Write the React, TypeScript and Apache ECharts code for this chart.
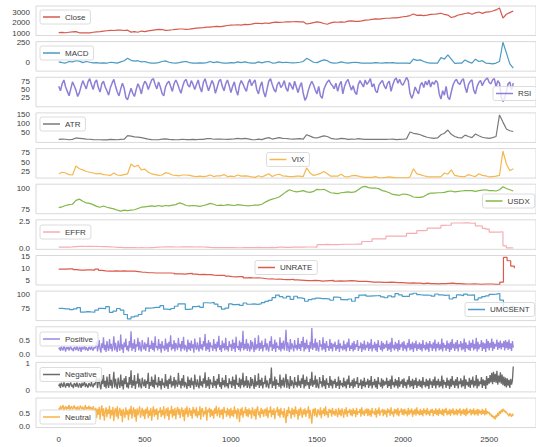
import React, { useEffect, useRef } from "react";
import * as echarts from "echarts";

// sampling steps (in trading-day index units)
const STEP_SMOOTH = 20;
const STEP_NOISY = 10;
const STEP_DENSE = 5;
const STEP_MONTH = 21;

const xTicks = [0, 500, 1000, 1500, 2000, 2500];

const closeValues = [
  1110, 1120, 1095, 1140, 1175, 1200, 1090, 1080, 1090, 1080,
  1140, 1180, 1200, 1240, 1280, 1320, 1300, 1330, 1340, 1300,
  1330, 1150, 1190, 1140, 1250, 1200, 1260, 1310, 1360, 1400,
  1390, 1320, 1340, 1370, 1410, 1440, 1440, 1400, 1420, 1480,
  1515, 1550, 1570, 1610, 1620, 1650, 1690, 1660, 1710, 1760,
  1795, 1810, 1830, 1800, 1860, 1850, 1890, 1950, 1970, 1930,
  1995, 1960, 2020, 2070, 2050, 2060, 2110, 2090, 2110, 2125,
  2100, 2110, 1900, 1960, 2030, 2090, 2050, 1950, 1880, 2000,
  2070, 2060, 2090, 2060, 2170, 2180, 2140, 2140, 2190, 2260,
  2270, 2320, 2370, 2350, 2400, 2430, 2430, 2470, 2460, 2510,
  2570, 2600, 2680, 2820, 2700, 2720, 2670, 2720, 2780, 2800,
  2840, 2890, 2780, 2720, 2500, 2580, 2730, 2790, 2870, 2930,
  2800, 2930, 3010, 2880, 2990, 3010, 3100, 3200, 3370, 2450,
  2800, 2950, 3100,
];

const macdValues = [
  5, -5, -10, 10, 5, 20, 15, -5, 10, 0,
  -8, -5, -10, -8, -12, 0, -5, -10, 5, 20,
  50, 25, 15, 20, 5, 10, -5, -10, -12, -5,
  10, 18, 0, -8, -10, -5, 5, 10, -5, -10,
  -12, -8, -10, -5, 10, -5, 5, -5, -12, -10,
  -5, -8, 5, -5, 5, -5, -12, -10, 5, -8,
  5, 10, -10, -8, 5, -5, 0, -5, -8, -5,
  0, 10, 50, 25, 0, -5, 15, 30, 20, -5,
  -10, -8, 5, -5, -10, -5, 0, -5, -12, -10,
  -10, -12, -5, -8, -10, -5, -8, -5, -10, -12,
  -12, -10, -15, 40, 25, 30, 10, -5, -10, -12,
  -10, 60, 40, 95, 40, -15, -10, -12, 30, 5,
  -10, 40, 10, 20, -10, -15, -20, -10, 10, 255,
  120, -20, -75,
];

const rsiValues = [
  60, 46, 68, 80, 58, 44, 30, 52, 74, 62, 48, 28, 40, 60, 78, 64, 52, 74, 84, 66,
  50, 72, 80, 56, 42, 68, 76, 58, 46, 32, 56, 70, 82, 60, 42, 30, 52, 70, 54, 24,
  18, 36, 54, 38, 28, 50, 68, 56, 36, 62, 76, 68, 50, 66, 80, 84, 66, 52, 74, 58,
  38, 30, 58, 70, 76, 60, 44, 68, 80, 68, 52, 38, 60, 76, 82, 64, 58, 78, 66, 50,
  66, 80, 56, 42, 72, 84, 64, 46, 62, 78, 66, 38, 56, 76, 82, 60, 46, 68, 80, 62,
  40, 60, 74, 48, 32, 64, 78, 68, 54, 44, 70, 82, 62, 72, 80, 50, 36, 60, 74, 42,
  26, 52, 76, 84, 66, 50, 42, 66, 74, 56, 64, 78, 54, 44, 72, 62, 50, 76, 58, 40,
  60, 72, 38, 16, 26, 48, 64, 76, 64, 48, 36, 60, 30, 22, 50, 64, 74, 80, 68, 62,
  52, 70, 44, 64, 76, 36, 60, 74, 82, 64, 48, 62, 42, 34, 66, 78, 68, 58, 80, 66,
  74, 84, 58, 68, 46, 40, 64, 72, 78, 62, 52, 70, 76, 44, 64, 80, 86, 70, 82, 68,
  64, 76, 88, 78, 38, 22, 36, 58, 46, 36, 64, 72, 56, 76, 64, 80, 58, 74, 66, 78,
  72, 36, 20, 46, 32, 60, 26, 18, 42, 64, 76, 82, 70, 66, 78, 84, 58, 40, 66, 76,
  80, 48, 36, 60, 72, 78, 62, 74, 82, 86, 72, 68, 80, 84, 58, 78, 70, 26, 12, 22,
  44, 68, 74, 48, 70,
];

const atrValues = [
  14, 16, 15, 12, 14, 22, 20, 18, 16, 15,
  13, 12, 12, 11, 11, 14, 13, 12, 14, 15,
  35, 32, 28, 27, 24, 20, 16, 13, 12, 12,
  16, 17, 14, 13, 12, 13, 15, 13, 13, 14,
  13, 15, 14, 18, 19, 15, 16, 16, 15, 14,
  16, 17, 20, 17, 20, 17, 13, 12, 16, 13,
  20, 24, 16, 20, 24, 20, 19, 17, 16, 17,
  18, 16, 40, 32, 24, 22, 28, 34, 30, 20,
  17, 16, 20, 18, 14, 16, 15, 18, 16, 14,
  14, 14, 15, 14, 15, 14, 15, 16, 13, 14,
  15, 17, 55, 48, 45, 40, 32, 26, 22, 20,
  22, 40, 48, 66, 42, 30, 24, 22, 38, 30,
  24, 44, 34, 26, 22, 20, 24, 30, 150, 110,
  72, 62, 58,
];

const vixValues = [
  20, 24, 22, 18, 17, 40, 33, 30, 26, 24,
  22, 20, 21, 18, 17, 16, 22, 17, 16, 18,
  20, 45, 38, 42, 30, 32, 24, 20, 18, 16,
  17, 23, 21, 17, 16, 15, 17, 17, 16, 14,
  13, 14, 13, 14, 17, 13, 15, 15, 18, 13,
  14, 13, 17, 14, 15, 14, 12, 11, 15, 12,
  16, 20, 13, 17, 19, 15, 14, 13, 13, 14,
  14, 13, 35, 22, 16, 18, 21, 26, 20, 14,
  14, 14, 19, 13, 12, 15, 16, 14, 12, 11,
  11, 11, 13, 10, 10, 11, 12, 11, 10, 10,
  10, 10, 12, 33, 20, 18, 15, 13, 12, 12,
  12, 13, 22, 19, 30, 16, 14, 13, 13, 18,
  15, 13, 20, 16, 15, 12, 13, 14, 16, 78,
  45, 28, 33,
];

const usdxValues = [
  77.5, 78.5, 80, 81, 81.5, 86, 87.5, 85, 83, 82.5,
  81, 79, 78, 79.5, 78, 77, 76, 74.5, 73.5, 74.5,
  74, 74.5, 75, 76.5, 78, 78.5, 79, 79.5, 79, 80,
  79, 80, 79.5, 80.5, 81, 83, 82, 80, 79.5, 80,
  79.5, 79, 80, 81, 82.5, 81.5, 80, 80.5, 80, 81,
  80.5, 80, 81, 80.5, 80, 79.5, 80, 80.5, 80.5, 81.5,
  84, 86, 87.5, 88.5, 90, 93, 96, 98.5, 97, 96,
  96.5, 97.5, 96, 95.5, 96.5, 99, 98.5, 99, 97, 95,
  94.5, 94, 95, 95.5, 96, 95.5, 96, 98.5, 101.5, 102.5,
  101, 100.5, 100.5, 99.5, 97.5, 96.5, 95, 93, 92.5, 92,
  93.5, 93, 92, 90, 89.5, 89.5, 90.5, 93, 94.5, 94.5,
  95, 95, 95.5, 96.5, 97, 96, 96.5, 97, 97.5, 97.5,
  97.5, 96.5, 97.5, 98, 98.5, 97.5, 97.5, 97, 98.5, 102,
  100, 98.5, 97,
];

const effrValues = [
  0.12, 0.12, 0.13, 0.15, 0.18, 0.2, 0.2, 0.19, 0.19, 0.19,
  0.2, 0.19, 0.18, 0.17, 0.16, 0.14, 0.11, 0.1, 0.09, 0.09,
  0.08, 0.08, 0.07, 0.08, 0.07, 0.07, 0.09, 0.1, 0.13, 0.14,
  0.15, 0.16, 0.16, 0.14, 0.14, 0.15, 0.16, 0.16, 0.15, 0.14,
  0.15, 0.14, 0.12, 0.1, 0.09, 0.09, 0.08, 0.09, 0.09, 0.08,
  0.08, 0.07, 0.07, 0.08, 0.09, 0.09, 0.09, 0.1, 0.09, 0.09,
  0.09, 0.1, 0.09, 0.12, 0.12, 0.11, 0.11, 0.12, 0.12, 0.13,
  0.13, 0.14, 0.14, 0.14, 0.13, 0.36, 0.37, 0.38, 0.37, 0.37,
  0.37, 0.38, 0.4, 0.4, 0.4, 0.4, 0.41, 0.41, 0.66, 0.66,
  0.66, 0.91, 0.91, 0.91, 0.91, 1.16, 1.16, 1.16, 1.16, 1.16,
  1.16, 1.42, 1.42, 1.42, 1.68, 1.69, 1.7, 1.91, 1.91, 1.91,
  1.92, 2.18, 2.19, 2.2, 2.4, 2.4, 2.4, 2.41, 2.42, 2.38,
  2.39, 2.13, 2.12, 1.9, 1.83, 1.55, 1.55, 1.55, 1.58, 0.25,
  0.05, 0.06, 0.08,
];

const unrateValues = [
  9.8, 9.8, 9.9, 9.9, 9.6, 9.4, 9.4, 9.5, 9.5, 9.4, 9.8, 9.3,
  9.1, 9.0, 9.0, 9.1, 9.0, 9.1, 9.0, 9.0, 9.0, 8.8, 8.6, 8.5,
  8.3, 8.3, 8.2, 8.2, 8.2, 8.2, 8.2, 8.1, 7.8, 7.8, 7.7, 7.9,
  8.0, 7.7, 7.5, 7.6, 7.5, 7.5, 7.3, 7.2, 7.2, 7.2, 6.9, 6.7,
  6.6, 6.7, 6.7, 6.2, 6.3, 6.1, 6.2, 6.1, 5.9, 5.7, 5.8, 5.6,
  5.7, 5.5, 5.4, 5.4, 5.6, 5.3, 5.2, 5.1, 5.0, 5.0, 5.1, 5.0,
  4.8, 4.9, 5.0, 5.1, 4.8, 4.9, 4.8, 4.9, 5.0, 4.9, 4.7, 4.7,
  4.7, 4.6, 4.4, 4.4, 4.4, 4.3, 4.3, 4.4, 4.3, 4.2, 4.2, 4.1,
  4.0, 4.1, 4.0, 4.0, 3.8, 4.0, 3.8, 3.8, 3.7, 3.8, 3.8, 3.9,
  4.0, 3.8, 3.8, 3.7, 3.6, 3.6, 3.7, 3.6, 3.5, 3.6, 3.6, 3.6,
  3.5, 3.5, 4.4, 14.7, 13.3, 11.1, 10.2,
];

const umcsentValues = [
  74.4, 73.6, 73.6, 72.2, 73.6, 76.0, 67.8, 68.9, 68.2, 67.7, 71.6, 74.5,
  74.2, 77.5, 67.5, 69.8, 74.3, 71.5, 63.7, 55.8, 59.5, 60.8, 63.7, 69.9,
  75.0, 75.3, 76.2, 76.4, 79.3, 73.2, 72.3, 74.3, 78.3, 82.6, 82.7, 72.9,
  73.8, 77.6, 78.6, 76.4, 84.5, 84.1, 85.1, 82.1, 77.5, 73.2, 75.1, 82.5,
  81.2, 81.6, 80.0, 84.1, 81.9, 82.5, 81.8, 82.5, 84.6, 86.9, 88.8, 93.6,
  98.1, 95.4, 93.0, 95.9, 90.7, 96.1, 93.1, 91.9, 87.2, 90.0, 91.3, 92.6,
  92.0, 91.7, 91.0, 89.0, 94.7, 93.5, 90.0, 89.8, 91.2, 87.2, 93.8, 98.2,
  98.5, 96.3, 96.9, 97.0, 97.1, 95.0, 93.4, 96.8, 95.1, 100.7, 98.5, 95.9,
  95.7, 99.7, 101.4, 98.8, 98.0, 98.2, 97.9, 96.2, 100.1, 98.6, 97.5, 98.3,
  91.2, 93.8, 98.4, 97.2, 100.0, 98.2, 98.4, 89.8, 93.2, 95.5, 96.8, 99.3,
  99.8, 101.0, 89.1, 71.8, 72.3, 78.1, 72.5,
];

const positiveValues = [
  .18, .25, .12, .28, .20, .14, .30, .22, .10, .26, .19, .27, .13, .24, .29, .16, .21, .11, .27, .23,
  .15, .29, .20, .12, .26, .24, .09, .28, .18, .22, .31, .14, .25, .19, .12, .27, .23, .16, .30, .20,
  .13, .26, .21, .30, .45, .10, .28, .52, .18, .06, .40, .22, .62, .15, .35, .08, .48, .25, .12, .56,
  .20, .38, .10, .30, .66, .14, .42, .22, .08, .50, .28, .12, .72, .18, .36, .05, .44, .26, .58, .15,
  .32, .10, .48, .24, .84, .12, .40, .20, .55, .08, .36, .28, .60, .14, .46, .22, .10, .52, .30, .18,
  .44, .12, .38, .26, .62, .08, .34, .20, .50, .16, .42, .10, .66, .24, .30, .14, .56, .20, .38, .06,
  .48, .22, .32, .12, .58, .18, .40, .08, .46, .26, .70, .14, .36, .20, .52, .10, .42, .28, .16, .60,
  .24, .38, .10, .48, .20, .64, .14, .34, .26, .08, .54, .18, .42, .12, .50, .22, .36, .06, .58, .28,
  .16, .44, .24, .10, .62, .20, .36, .14, .48, .28, .74, .12, .40, .18, .52, .08, .44, .26, .32, .12,
  .56, .20, .38, .10, .46, .24, .68, .16, .34, .08, .50, .22, .40, .14, .60, .18, .30, .10, .48, .26,
  .36, .12, .54, .20, .42, .08, .64, .24, .30, .16, .50, .10, .44, .22, .86, .14, .38, .20, .56, .12,
  .40, .24, .10, .52, .18, .46, .28, .08, .60, .16, .36, .22, .70, .12, .42, .20, .50, .10, .34, .26,
  .58, .14, .40, .22, .10, .48, .26, .66, .12, .36, .20, .54, .08, .44, .24, .30, .16, .62, .10, .42,
  .20, .50, .14, .36, .90, .12, .44, .24, .08, .56, .18, .40, .28, .10, .52, .22, .34, .14, .60, .20,
  .38, .12, .48, .26, .64, .10, .42, .18, .54, .22, .34, .08, .46, .20, .96, .16, .40, .24, .58, .12,
  .44, .20, .10, .52, .28, .36, .14, .62, .18, .40, .08, .48, .24, .30, .12, .56, .20, .42, .10, .38,
  .26, .46, .12, .34, .20, .54, .08, .40, .22, .30, .14, .50, .18, .36, .10, .44, .24, .58, .12, .32,
  .20, .42, .10, .48, .16, .36, .26, .52, .12, .30, .22, .44, .08, .38, .18, .50, .14, .34, .24, .46,
  .12, .40, .20, .56, .10, .34, .22, .46, .14, .38, .08, .52, .26, .32, .16, .48, .10, .42, .20, .36,
  .24, .50, .12, .38, .18, .44, .08, .60, .22, .34, .14, .46, .20, .40, .10, .52, .16, .36, .26, .44,
  .12, .48, .20, .34, .10, .42, .24, .56, .14, .38, .18, .46, .08, .40, .22, .50, .12, .36, .20, .44,
  .16, .38, .10, .52, .22, .34, .14, .46, .18, .40, .08, .48, .24, .36, .12, .44, .20, .54, .10, .38,
  .22, .46, .14, .36, .18, .58, .10, .42, .24, .34, .12, .50, .20, .40, .08, .46, .16, .56, .22, .38,
  .12, .44, .20, .52, .10, .36, .26, .48, .14, .40, .18, .58, .08, .44, .22, .34, .16, .50, .12, .42,
  .24, .54, .14, .38, .20, .60, .10, .46, .18, .36, .26, .52, .12, .44, .20, .40, .08, .56, .22, .48,
  .14, .42, .24, .58, .12, .46, .20, .38, .28, .54, .16, .44, .22, .50, .18, .40, .26, .48, .14, .52,
  .22, .46, .16, .54, .20, .40, .12, .48, .24,
];

const negativeValues = [
  .16, .26, .10, .29, .21, .13, .31, .20, .11, .27, .18, .28, .12, .25, .30, .15, .22, .09, .28, .24,
  .14, .30, .19, .11, .27, .23, .10, .29, .17, .24, .32, .13, .26, .18, .11, .28, .22, .15, .31, .19,
  .12, .27, .20, .34, .50, .09, .30, .46, .16, .05, .42, .24, .58, .14, .36, .08, .52, .22, .10, .62,
  .18, .40, .08, .32, .70, .12, .44, .20, .06, .48, .26, .10, .60, .16, .38, .04, .46, .24, .54, .12,
  .30, .08, .50, .22, .76, .10, .38, .18, .58, .06, .34, .26, .64, .12, .44, .20, .08, .48, .28, .16,
  .42, .10, .36, .24, .66, .06, .32, .18, .52, .14, .40, .08, .60, .22, .30, .12, .50, .18, .36, .04,
  .46, .20, .30, .10, .62, .16, .38, .06, .44, .24, .56, .12, .34, .18, .50, .08, .40, .26, .14, .66,
  .22, .36, .08, .46, .18, .58, .12, .32, .24, .06, .52, .16, .40, .10, .48, .20, .34, .04, .60, .26,
  .14, .42, .22, .08, .56, .18, .34, .12, .46, .26, .68, .10, .38, .16, .50, .06, .42, .24, .30, .10,
  .54, .18, .36, .08, .44, .22, .62, .14, .32, .06, .48, .20, .38, .12, .58, .16, .28, .08, .46, .24,
  .34, .10, .52, .18, .40, .06, .60, .22, .28, .14, .48, .08, .42, .20, .66, .12, .36, .18, .54, .10,
  .38, .22, .08, .50, .16, .44, .26, .06, .58, .14, .34, .20, .64, .10, .40, .18, .48, .08, .32, .24,
  .56, .12, .38, .20, .08, .46, .24, .86, .10, .34, .18, .52, .06, .42, .22, .28, .14, .60, .08, .40,
  .18, .48, .12, .34, .62, .10, .42, .22, .06, .54, .16, .38, .26, .08, .50, .20, .32, .12, .58, .18,
  .36, .10, .46, .24, .60, .08, .40, .16, .52, .20, .32, .06, .44, .18, .70, .14, .38, .22, .56, .10,
  .42, .18, .08, .50, .26, .34, .12, .58, .16, .38, .06, .46, .22, .28, .10, .54, .18, .40, .08, .36,
  .24, .44, .10, .32, .18, .52, .06, .38, .20, .28, .12, .48, .16, .34, .08, .42, .22, .56, .10, .30,
  .18, .40, .08, .46, .14, .34, .24, .50, .10, .28, .20, .42, .06, .36, .16, .48, .12, .32, .22, .44,
  .10, .38, .18, .54, .08, .32, .20, .44, .12, .36, .06, .50, .24, .30, .14, .46, .08, .40, .18, .34,
  .22, .48, .10, .36, .16, .42, .06, .56, .20, .32, .12, .44, .18, .38, .08, .50, .14, .34, .24, .42,
  .10, .46, .18, .32, .08, .40, .22, .54, .12, .36, .16, .44, .06, .38, .20, .48, .10, .34, .18, .42,
  .14, .36, .08, .50, .20, .32, .12, .44, .16, .38, .06, .46, .22, .34, .10, .42, .18, .52, .08, .36,
  .20, .44, .12, .34, .16, .56, .08, .40, .22, .32, .10, .48, .18, .38, .06, .44, .14, .54, .20, .36,
  .10, .42, .18, .50, .08, .34, .24, .46, .12, .38, .16, .56, .06, .42, .20, .32, .14, .48, .10, .40,
  .22, .52, .12, .36, .18, .58, .08, .44, .16, .34, .24, .50, .10, .42, .18, .38, .06, .54, .20, .46,
  .26, .58, .30, .66, .24, .70, .32, .62, .28, .74, .22, .56, .30, .68, .26, .60, .20, .52, .16, .48,
  .12, .46, .18, .40, .10, .44, .22, .38, .90,
];

const neutralValues = [
  .72, .64, .82, .68, .76, .85, .62, .74, .80, .66, .78, .70, .86, .63, .75, .81, .67, .73, .84, .69,
  .77, .62, .80, .71, .65, .83, .74, .68, .79, .63, .72, .85, .66, .76, .70, .82, .64, .78, .73, .60,
  .80, .68, .55, .74, .32, .70, .46, .78, .26, .64, .84, .40, .72, .22, .60, .76, .36, .68, .50, .82,
  .30, .66, .44, .78, .20, .62, .72, .38, .80, .28, .58, .74, .42, .66, .16, .70, .52, .34, .76, .46,
  .64, .24, .70, .48, .82, .30, .60, .76, .36, .68, .18, .72, .44, .62, .80, .34, .56, .74, .40, .66,
  .28, .70, .50, .78, .32, .64, .42, .74, .22, .60, .80, .38, .68, .46, .72, .26, .62, .54, .76, .36,
  .66, .44, .80, .30, .58, .72, .40, .76, .24, .64, .50, .82, .34, .68, .42, .74, .28, .60, .78, .46,
  .70, .32, .62, .76, .38, .66, .20, .72, .48, .80, .36, .58, .74, .42, .64, .30, .78, .52, .68, .40,
  .76, .34, .60, .44, .80, .26, .68, .72, .38, .62, .48, .78, .22, .66, .56, .74, .36, .70, .42, .64,
  .30, .72, .50, .82, .40, .60, .76, .34, .66, .46, .70, .28, .78, .54, .62, .38, .74, .44, .68, .32,
  .74, .42, .64, .36, .80, .50, .66, .28, .72, .58, .16, .70, .44, .76, .34, .62, .52, .78, .40, .68,
  .36, .72, .48, .64, .30, .76, .56, .40, .70, .26, .66, .80, .44, .60, .34, .74, .50, .68, .38, .62,
  .70, .40, .76, .32, .64, .54, .80, .36, .66, .46, .72, .28, .62, .58, .78, .42, .68, .34, .74, .48,
  .60, .34, .72, .44, .12, .66, .40, .78, .52, .62, .30, .74, .46, .68, .36, .80, .50, .64, .26, .70,
  .42, .76, .56, .34, .68, .48, .72, .38, .64, .52, .80, .30, .66, .44, .10, .62, .70, .40, .74, .50,
  .36, .68, .58, .44, .76, .32, .64, .50, .72, .40, .80, .46, .60, .34, .70, .54, .66, .38, .74, .48,
  .62, .42, .70, .52, .36, .74, .46, .66, .40, .72, .56, .34, .68, .48, .76, .38, .62, .54, .70, .44,
  .66, .40, .72, .50, .64, .36, .74, .46, .60, .54, .70, .38, .76, .48, .62, .42, .68, .52, .72, .40,
  .70, .44, .64, .38, .74, .52, .60, .46, .72, .34, .66, .50, .76, .42, .62, .56, .70, .40, .68, .48,
  .64, .36, .72, .54, .66, .42, .76, .48, .60, .38, .70, .52, .68, .44, .74, .40, .62, .56, .72, .46,
  .68, .44, .70, .50, .62, .40, .74, .46, .66, .52, .72, .38, .64, .48, .70, .42, .76, .50, .62, .44,
  .70, .46, .64, .40, .72, .52, .66, .44, .74, .48, .62, .42, .68, .54, .70, .40, .64, .50, .72, .46,
  .66, .42, .72, .50, .64, .46, .70, .40, .68, .54, .74, .44, .62, .48, .70, .42, .66, .52, .72, .44,
  .62, .48, .70, .44, .66, .52, .72, .42, .64, .50, .70, .46, .68, .40, .74, .48, .62, .54, .70, .44,
  .66, .50, .72, .44, .64, .48, .70, .42, .68, .52, .62, .46, .70, .50, .64, .44, .72, .48, .60, .52,
  .56, .44, .50, .38, .44, .32, .40, .28, .46, .36, .54, .42, .60, .50, .66, .56, .70, .60, .64, .54,
  .58, .50, .46, .40, .52, .44, .38, .50, .42,
];

type Panel = {
  name: string;
  values: number[];
  step: number;
  stairs?: boolean;
  color: string;
  width: number;
  yMin: number;
  yMax: number;
  ticks: number[];
  decimals: number;
  legendLeft: number;
  legendMid: number;
};

const panels: Panel[] = [
  { name: "Close", values: closeValues, step: STEP_SMOOTH, color: "#d65a4d", width: 1.2, yMin: 840, yMax: 3560, ticks: [1000, 2000, 3000], decimals: 0, legendLeft: 40, legendMid: 17.5 },
  { name: "MACD", values: macdValues, step: STEP_SMOOTH, color: "#4a9ac4", width: 1.2, yMin: -113, yMax: 263, ticks: [0, 250], decimals: 0, legendLeft: 40, legendMid: 53.5 },
  { name: "RSI", values: rsiValues, step: STEP_NOISY, color: "#8d7fd6", width: 1.5, yMin: -4.5, yMax: 88.5, ticks: [25, 50, 75], decimals: 0, legendLeft: 493, legendMid: 94 },
  { name: "ATR", values: atrValues, step: STEP_SMOOTH, color: "#7a7a7a", width: 1.2, yMin: -2.7, yMax: 161, ticks: [50, 100, 150], decimals: 0, legendLeft: 40, legendMid: 124.5 },
  { name: "VIX", values: vixValues, step: STEP_SMOOTH, color: "#f5b74e", width: 1.2, yMin: 9.2, yMax: 84.3, ticks: [25, 50, 75], decimals: 0, legendLeft: 266.5, legendMid: 160 },
  { name: "USDX", values: usdxValues, step: STEP_SMOOTH, color: "#83b84a", width: 1.2, yMin: 70.4, yMax: 105, ticks: [75, 100], decimals: 0, legendLeft: 482.5, legendMid: 201.5 },
  { name: "EFFR", values: effrValues, step: STEP_SMOOTH, stairs: true, color: "#f5aeb3", width: 1.2, yMin: -0.08, yMax: 2.7, ticks: [0, 2.5], decimals: 1, legendLeft: 40, legendMid: 232.5 },
  { name: "UNRATE", values: unrateValues, step: STEP_MONTH, stairs: true, color: "#dc5a4e", width: 1.2, yMin: 3.2, yMax: 15.5, ticks: [5, 10, 15], decimals: 0, legendLeft: 255, legendMid: 268 },
  { name: "UMCSENT", values: umcsentValues, step: STEP_MONTH, stairs: true, color: "#4c9cc6", width: 1.2, yMin: 52.8, yMax: 105.2, ticks: [75, 100], decimals: 0, legendLeft: 465, legendMid: 310 },
  { name: "Positive", values: positiveValues, step: STEP_DENSE, color: "#9987e0", width: 1.3, yMin: -0.075, yMax: 1.01, ticks: [0, 0.5], decimals: 1, legendLeft: 40, legendMid: 339.5 },
  { name: "Negative", values: negativeValues, step: STEP_DENSE, color: "#6a6a6a", width: 1.3, yMin: -0.05, yMax: 1.05, ticks: [0, 1], decimals: 0, legendLeft: 40, legendMid: 375 },
  { name: "Neutral", values: neutralValues, step: STEP_DENSE, color: "#f7b24a", width: 1.3, yMin: -0.05, yMax: 1.13, ticks: [0, 0.5], decimals: 1, legendLeft: 40, legendMid: 417.5 },
];

const FONT = "Liberation Sans, Arial, sans-serif";
const TEXT = "#3c3c3c";

export default function App() {
  const ref = useRef<HTMLDivElement>(null);
  useEffect(() => {
    if (!ref.current) return;
    const chart = echarts.init(ref.current, undefined, { renderer: "svg" });
    const n = panels.length;
    const pitch = 35.64;
    const grid = panels.map((_, i) => ({
      left: 36,
      width: 503,
      top: 6 + i * pitch,
      height: 29.5,
      show: true,
      borderColor: "#d9d9d9",
      borderWidth: 1,
      containLabel: false,
    }));
    const xAxis = panels.map((_, i) => ({
      type: "value",
      gridIndex: i,
      min: -132,
      max: 2772,
      axisLine: { show: false },
      axisTick: { show: false },
      splitLine: { show: false },
      axisLabel: {
        show: i === n - 1,
        customValues: xTicks,
        fontSize: 8,
        fontFamily: FONT,
        color: TEXT,
        margin: 8,
        formatter: (v: number) => String(v),
      },
    }));
    const yAxis = panels.map((p, i) => ({
      type: "value",
      gridIndex: i,
      min: p.yMin,
      max: p.yMax,
      axisLine: { show: false },
      axisTick: { show: false },
      splitLine: { show: false },
      axisLabel: {
        customValues: p.ticks,
        fontSize: 8,
        fontFamily: FONT,
        color: TEXT,
        margin: 6,
        formatter: (v: number) => v.toFixed(p.decimals),
      },
    }));
    const series = panels.map((p, i) => ({
      name: p.name,
      type: "line",
      xAxisIndex: i,
      yAxisIndex: i,
      data: p.values.map((v, k) => [k * p.step, v]),
      symbol: "none",
      step: p.stairs ? "end" : false,
      color: p.color,
      lineStyle: { color: p.color, width: p.width },
      z: 2,
    }));
    const legend = panels.map((p) => ({
      data: [p.name],
      left: p.legendLeft,
      top: p.legendMid - 7.5,
      icon: "rect",
      itemWidth: 17,
      itemHeight: 1.5,
      padding: [3, 5, 3, 3],
      backgroundColor: "rgba(255,255,255,0.8)",
      borderColor: "#dcdcdc",
      borderWidth: 1,
      borderRadius: 2,
      selectedMode: false,
      textStyle: { fontSize: 8, fontFamily: FONT, color: TEXT },
      z: 10,
    }));
    chart.setOption({
      animation: false,
      backgroundColor: "#ffffff",
      grid,
      xAxis,
      yAxis,
      series,
      legend,
    });
    return () => chart.dispose();
  }, []);
  return (
    <div
      ref={ref}
      style={{ position: "fixed", left: 0, top: 0, width: 536, height: 447 }}
    />
  );
}
